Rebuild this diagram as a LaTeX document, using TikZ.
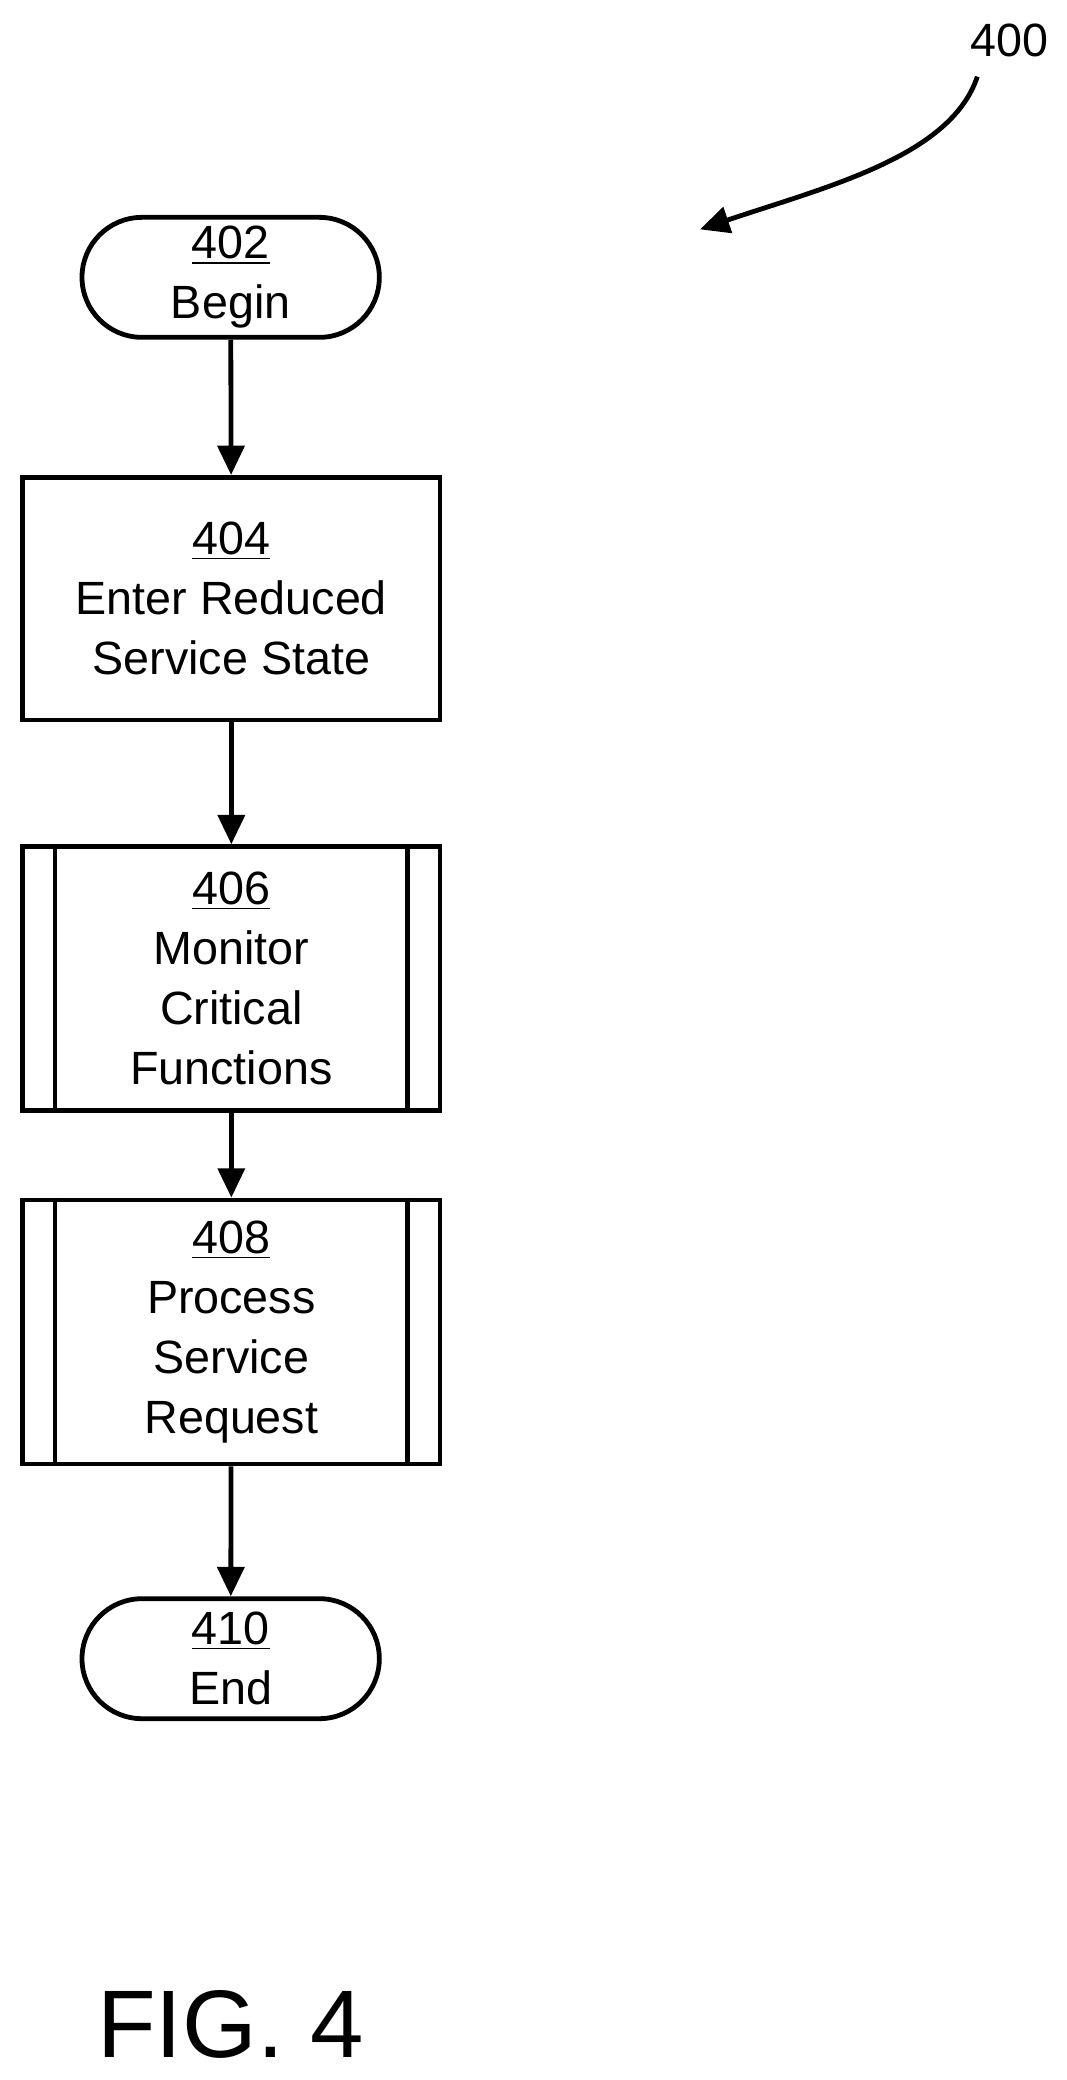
\documentclass[tikz,border=0pt]{standalone}
\usepackage{fontspec}
\setmainfont{Liberation Sans}
\usetikzlibrary{shapes.misc,arrows.meta}
\begin{document}
\begin{tikzpicture}[x=0.5pt,y=-0.5pt,
    every node/.style={font=\fontsize{17.5}{22.5}\selectfont, align=center},
    terminal/.style={rounded rectangle, draw, line width=1.8pt, minimum width=111.5pt, minimum height=45pt, inner sep=0pt},
    stepbox/.style={rectangle, draw, line width=1.8pt, minimum width=156.5pt, inner sep=0pt},
    link/.style={line width=1.8pt, -{Triangle[length=11pt,width=10pt]}}]
   \useasboundingbox (0,0) rectangle (800,1560);
   \node[terminal] (begin) at (173,208) {\underline{402}\\Begin};
   \node[stepbox, minimum height=91pt] (enter) at (173.5,449) {\underline{404}\\Enter Reduced\\Service State};
   \node[stepbox, minimum height=99pt] (monitor) at (173.5,734) {\underline{406}\\Monitor\\Critical\\Functions};
   \node[stepbox, minimum height=99pt] (process) at (173.5,999) {\underline{408}\\Process\\Service\\Request};
   \node[terminal] (end) at (173,1244) {\underline{410}\\End};
   % side bars of the predefined processes
   \foreach \n in {monitor,process}{
      \draw[line width=1.8pt] ([xshift=13pt]\n.north west) -- ([xshift=13pt]\n.south west);
      \draw[line width=1.8pt] ([xshift=-13pt]\n.north east) -- ([xshift=-13pt]\n.south east);
   }
   \draw[link] (begin) -- (enter);
   \draw[link] (enter) -- (monitor);
   \draw[link] (monitor) -- (process);
   \draw[link] (process) -- (end);
   \node (fig) at (757,30) {400};
   \coordinate (figarrow) at (525,172);
   \draw[link] ([xshift=-12pt,yshift=-4pt]fig.south) .. controls +(-20,60) and (620,140) .. (figarrow);
   \node[font=\fontsize{36}{38}\selectfont] (title) at (173,1518) {FIG. 4};
\end{tikzpicture}
\end{document}
